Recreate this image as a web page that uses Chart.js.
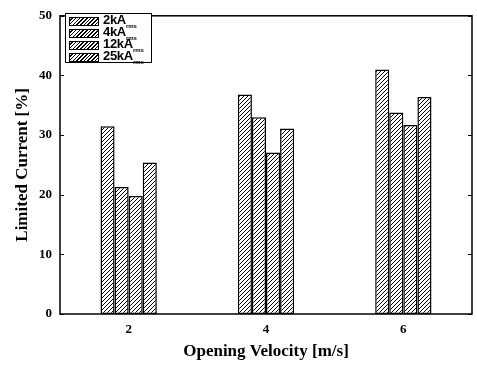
<!DOCTYPE html>
<html>
<head>
<meta charset="utf-8">
<script src="https://cdn.jsdelivr.net/npm/chart.js@4/dist/chart.umd.min.js"></script>
<style>
  html, body { margin: 0; padding: 0; background: #fff; }
  #wrap { position: relative; width: 477px; height: 368px; }
  #legend {
    position: absolute; left: 65px; top: 13px; width: 87px; height: 50px;
    border: 1.5px solid #000; background: #fff; box-sizing: border-box;
    font-family: "Liberation Sans", Arial, sans-serif; font-weight: bold; font-size: 13px;
    padding-top: 1px;
  }
  .item { height: 12px; display: flex; align-items: center; margin-left: 3px; position: relative; }
  .sw { width: 30px; height: 9px; border: 1px solid #000; margin-right: 4px; box-sizing: border-box; flex: none;
        background: repeating-linear-gradient(-45deg, #fff 0px, #fff 1.6px, #000 1.6px, #000 2.6px); }
  .lab { line-height: 12px; white-space: nowrap; letter-spacing: -0.3px; }
  .lab sub { font-size: 6px; position: relative; top: 4px; vertical-align: baseline; letter-spacing: 0; }
</style>
</head>
<body>
<div id="wrap">
  <canvas id="c" width="477" height="368"></canvas>
  <div id="legend"></div>
</div>
<script>
const categories = ["2", "4", "6"];
const seriesNames = ["2kA", "4kA", "12kA", "25kA"];
const seriesSub = "rms";
const s2kA = [31.5, 36.8, 41.0];
const s4kA = [21.3, 33.0, 33.8];
const s12kA = [19.8, 27.1, 31.7];
const s25kA = [25.4, 31.1, 36.4];
const yTicks = [0, 10, 20, 30, 40, 50];

function hatch() {
  const p = document.createElement('canvas');
  p.width = 4; p.height = 4;
  const g = p.getContext('2d');
  g.fillStyle = '#fff'; g.fillRect(0, 0, 4, 4);
  g.strokeStyle = '#000'; g.lineWidth = 1;
  g.beginPath();
  g.moveTo(0, 4); g.lineTo(4, 0);
  g.moveTo(-1, 1); g.lineTo(1, -1);
  g.moveTo(3, 5); g.lineTo(5, 3);
  g.stroke();
  return document.getElementById('c').getContext('2d').createPattern(p, 'repeat');
}
const pat = hatch();

const allSeries = [s2kA, s4kA, s12kA, s25kA];
const datasets = allSeries.map((d, i) => ({
  label: seriesNames[i] + seriesSub,
  data: d,
  backgroundColor: pat,
  borderColor: '#000',
  borderWidth: 1.5,
  borderSkipped: false
}));

const legend = document.getElementById('legend');
seriesNames.forEach(n => {
  const it = document.createElement('div'); it.className = 'item';
  it.innerHTML = '<span class="sw"></span><span class="lab">' + n + '<sub>' + seriesSub + '</sub></span>';
  legend.appendChild(it);
});

const frame = {
  id: 'frame',
  afterDraw(chart) {
    const { ctx, chartArea: a, scales: { y } } = chart;
    ctx.save();
    ctx.strokeStyle = '#000';
    ctx.lineWidth = 1.5;
    ctx.strokeRect(a.left, a.top, a.right - a.left, a.bottom - a.top);
    ctx.lineWidth = 1;
    ctx.beginPath();
    yTicks.forEach(v => {
      const py = Math.round(y.getPixelForValue(v)) + 0.5;
      ctx.moveTo(a.left, py); ctx.lineTo(a.left + 4, py);
      ctx.moveTo(a.right, py); ctx.lineTo(a.right - 4, py);
    });
    ctx.stroke();
    ctx.restore();
  }
};

new Chart(document.getElementById('c'), {
  type: 'bar',
  data: { labels: categories, datasets },
  plugins: [frame],
  options: {
    responsive: false,
    animation: false,
    devicePixelRatio: 1,
    layout: { padding: { top: 10, right: 5, left: 0, bottom: 0 } },
    plugins: { legend: { display: false }, tooltip: { enabled: false } },
    datasets: { bar: { categoryPercentage: 0.41, barPercentage: 1.0 } },
    scales: {
      x: {
        grid: { display: false, drawTicks: false },
        border: { display: false },
        ticks: { color: '#000', padding: 8, font: { family: 'Liberation Serif', weight: 'bold', size: 13 } },
        title: { display: true, text: 'Opening Velocity [m/s]', color: '#000', padding: { top: 0, bottom: 6 },
                 font: { family: 'Liberation Serif', weight: 'bold', size: 17 } },
        afterFit(s) { s.height = 54; }
      },
      y: {
        min: 0, max: 50,
        afterBuildTicks(s) { s.ticks = yTicks.map(v => ({ value: v })); },
        grid: { display: false, drawTicks: false },
        border: { display: false },
        ticks: { color: '#000', padding: 8, font: { family: 'Liberation Serif', weight: 'bold', size: 13 } },
        title: { display: true, text: 'Limited Current [%]', color: '#000', padding: { top: 12, bottom: 0 },
                 font: { family: 'Liberation Serif', weight: 'bold', size: 17 } },
        afterFit(s) { s.width = 60; }
      }
    }
  }
});
</script>
</body>
</html>
